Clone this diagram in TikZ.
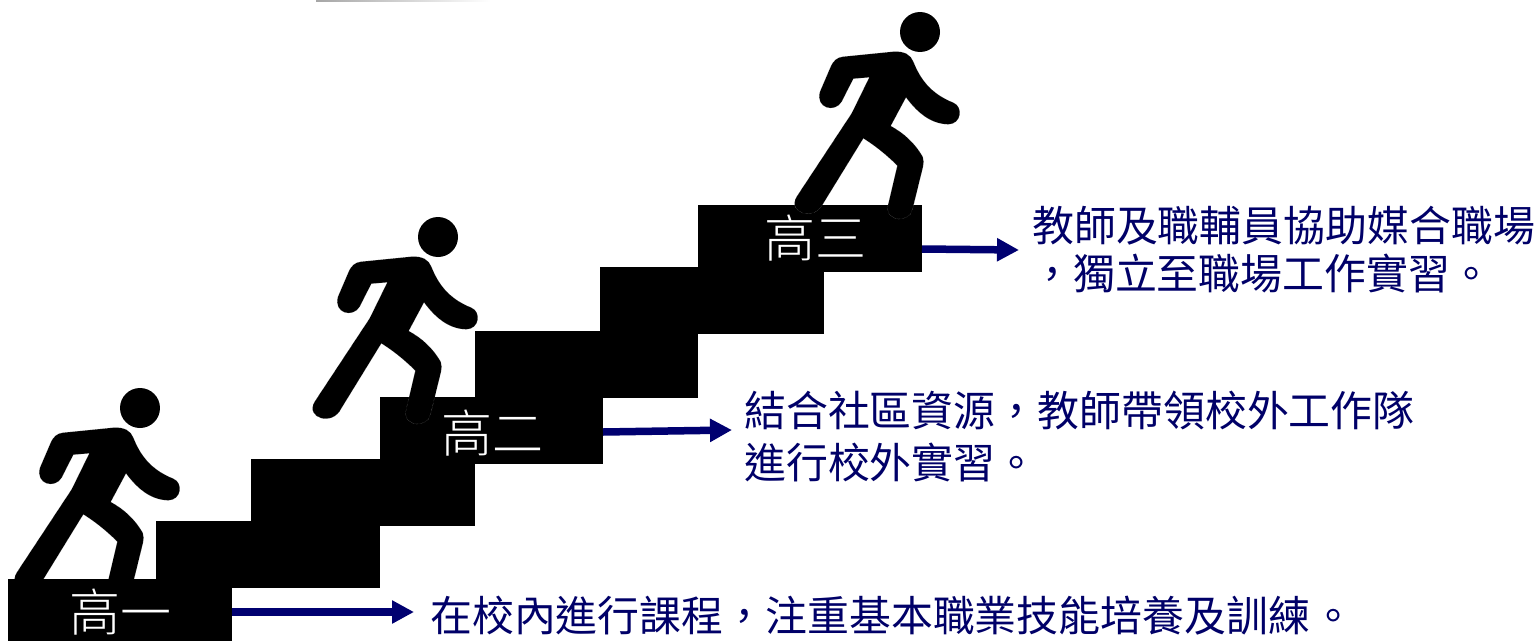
\documentclass[tikz,border=0pt]{standalone}
\usepackage{fontspec}
\usetikzlibrary{arrows.meta}
\setmainfont{Noto Sans CJK TC}
\newfontfamily\thinfont{Noto Sans CJK TC Light}
\definecolor{navytxt}{HTML}{000068}
\definecolor{navyline}{HTML}{000070}
\tikzset{
  stairbox/.style={fill=black,draw=none,inner sep=0pt,outer sep=0pt,minimum width=224pt,minimum height=67pt},
  gradelabel/.style={text=white,font=\thinfont\fontsize{51pt}{51pt}\selectfont,inner sep=0pt,anchor=base},
  desc/.style={text=navytxt,font=\fontsize{41.9pt}{48pt}\selectfont,inner sep=0pt,anchor=base west},
  flow/.style={draw=navyline,line width=7.5pt,-{Triangle[length=22pt,width=22pt]}},
  walker/.pic={
    \begin{scope}[x=0.3333pt,y=-0.3333pt,shift={(-420,-96)}]
      \fill[black] (420,96) circle [radius=60];
      \filldraw[fill=black,draw=gray!70,line width=0.3pt,densely dotted]
        (340,155) .. controls (375,153) and (392,165) .. (400,185)
        .. controls (420,235) and (450,280) .. (520,308)
        .. controls (550,320) and (545,372) .. (505,373)
        .. controls (450,372) and (410,335) .. (378,292)
        -- (332,378)
        .. controls (370,398) and (405,430) .. (428,470)
        .. controls (432,480) and (431,490) .. (429,500)
        -- (397,630)
        .. controls (385,670) and (318,665) .. (323,620)
        -- (352,497)
        .. controls (325,470) and (290,440) .. (250,415)
        -- (130,610)
        .. controls (105,665) and (20,640) .. (50,590)
        -- (215,340)
        -- (268,232)
        -- (220,236)
        -- (185,305)
        .. controls (165,340) and (105,325) .. (120,275)
        -- (150,205)
        .. controls (160,180) and (172,172) .. (190,170)
        -- cycle;
    \end{scope}
  }
}
\begin{document}
\begin{tikzpicture}[x=1pt,y=-1pt]
  \clip (0,0) rectangle (1539,640);
  \shade[left color=gray!70,right color=white] (316,0) rectangle (490,1.5);
  \pic at (140,408) {walker};

  \node[stairbox] (s1) at (120,612) {};
  \node[stairbox] (s2) at (268,554.5) {};
  \node[stairbox] (s3) at (363,492.5) {};
  \node[stairbox,minimum width=223pt] (s4) at (491.5,430.5) {};
  \node[stairbox,minimum width=223pt] (s5) at (586.5,364.5) {};
  \node[stairbox] (s6) at (712,300.5) {};
  \node[stairbox] (s7) at (810,238.5) {};
  \pic at (438,237) {walker};
  \pic at (920,32) {walker};

  \node[gradelabel] (g1) at (120,631) {高一};
  \node[gradelabel] (g2) at (492,452) {高二};
  \node[gradelabel] (g3) at (815,257) {高三};

  \node[desc] (d3a) at (1032,241) {教師及職輔員協助媒合職場};
  \node[desc] (d3b) at (1031,289) {，獨立至職場工作實習。};
  \node[desc] (d2a) at (744,426) {結合社區資源，教師帶領校外工作隊};
  \node[desc] (d2b) at (744,478) {進行校外實習。};
  \node[desc] (d1) at (430,631) {在校內進行課程，注重基本職業技能培養及訓練 \hspace*{-7pt}。};

  \coordinate (e1) at (414,612);
  \coordinate (e2) at (732,430);
  \coordinate (e3) at (1019,250);
  \draw[flow] (s1.east) -- (e1);
  \draw[flow] ([yshift=-1.5pt]s4.east) -- (e2);
  \draw[flow] ([yshift=-10.5pt]s7.east) -- (e3);
\end{tikzpicture}
\end{document}
